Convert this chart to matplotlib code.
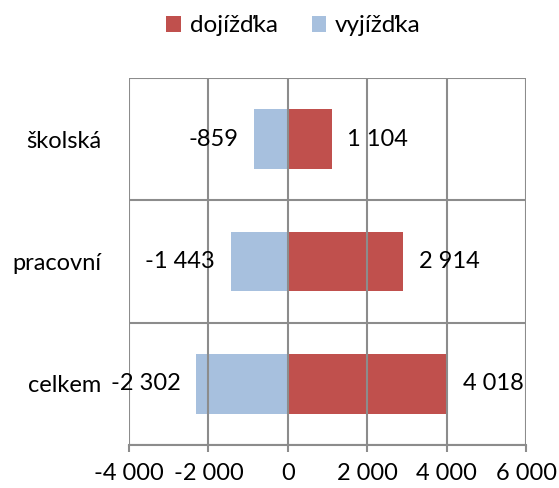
import matplotlib
matplotlib.use("Agg")
import matplotlib.pyplot as plt
from matplotlib.patches import Patch
from matplotlib.ticker import FixedLocator, FuncFormatter

plt.rcParams['font.family'] = ['Lato', 'DejaVu Sans']

categories = ["celkem", "pracovní", "školská"]
dojizdka = [4018, 2914, 1104]
vyjizdka = [-2302, -1443, -859]
series_names = ["dojížďka", "vyjížďka"]
xticks = [-4000, -2000, 0, 2000, 4000, 6000]

red = "#C0504D"
blue = "#A7C0DE"
grid_c = "#8C8C8C"

fig = plt.figure(figsize=(5.59, 4.88), dpi=100)
ax = fig.add_axes([129/559, 1-445/488, (526-129)/559, (445-78)/488])

y = list(range(len(categories)))
ax.barh(y, dojizdka, height=0.49, color=red, zorder=1)
ax.barh(y, vyjizdka, height=0.49, color=blue, zorder=1)

def fmt(v):
    s = f"{abs(int(v)):,}".replace(",", " ")
    return ("-" if v < 0 else "") + s

for yi, v in zip(y, dojizdka):
    ax.annotate(fmt(v), (v, yi), xytext=(11, 0), textcoords="offset points",
                ha="left", va="center", fontsize=17, zorder=5)
for yi, v in zip(y, vyjizdka):
    ax.annotate(fmt(v), (v, yi), xytext=(-11, 0), textcoords="offset points",
                ha="right", va="center", fontsize=17, zorder=5)

ax.set_xlim(-4000, 6000)
ax.set_ylim(-0.5, len(categories) - 0.5)
ax.xaxis.set_major_locator(FixedLocator(xticks))
ax.xaxis.set_major_formatter(FuncFormatter(lambda v, p: fmt(v)))
ax.set_yticks(y)
ax.set_yticklabels(categories)
ax.yaxis.set_minor_locator(FixedLocator([i - 0.5 for i in range(len(categories) + 1)]))

ax.set_axisbelow(False)
ax.grid(axis="x", which="major", color=grid_c, linewidth=1.5, zorder=3)
ax.grid(axis="y", which="minor", color=grid_c, linewidth=1.5, zorder=3)
ax.grid(axis="y", which="major", visible=False)

for s in ["top", "right", "left"]:
    ax.spines[s].set_visible(False)
ax.spines["bottom"].set_color(grid_c)
ax.spines["bottom"].set_linewidth(1.5)
ax.tick_params(axis="x", which="major", length=5, width=1.5, color=grid_c,
               labelsize=17, pad=8)
ax.tick_params(axis="y", which="both", length=0, labelsize=17, pad=20)

handles = [Patch(facecolor=red, edgecolor="none"), Patch(facecolor=blue, edgecolor="none")]
fig.legend(handles, series_names, loc="center", bbox_to_anchor=(0.525, 1-26/488),
           ncol=2, frameon=False, fontsize=17.5, handlelength=0.6, handleheight=0.6,
           handletextpad=0.35, columnspacing=1.4)

fig.savefig("out.png", dpi=100)
